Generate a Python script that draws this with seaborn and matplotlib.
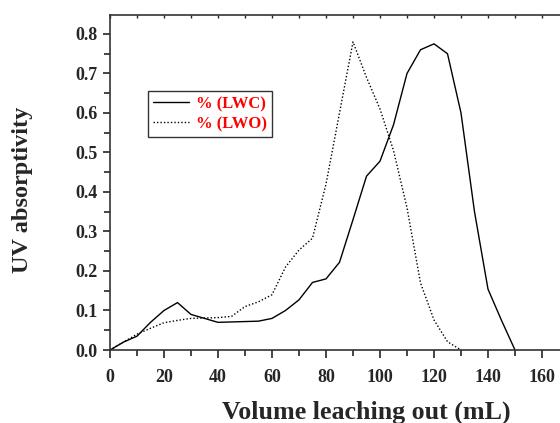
import matplotlib
matplotlib.use("Agg")
import matplotlib.pyplot as plt
import numpy as np
import pandas as pd
import seaborn as sns
from matplotlib.ticker import MultipleLocator

# volume (mL) and UV absorptivity
vol_lwc = [0, 5, 10, 15, 20, 25, 30, 35, 40, 45, 50, 55, 60, 65, 70, 75, 80, 85,
           90, 95, 100, 105, 110, 115, 120, 125, 130, 135, 140, 145, 150]
uv_lwc = [0, 0.02, 0.035, 0.07, 0.10, 0.12, 0.09, 0.08, 0.07, 0.071, 0.072, 0.073,
          0.08, 0.10, 0.127, 0.171, 0.18, 0.222, 0.33, 0.44, 0.478, 0.57, 0.70,
          0.76, 0.775, 0.75, 0.60, 0.35, 0.154, 0.075, 0]

vol_lwo = [0, 5, 10, 15, 20, 25, 30, 35, 40, 45, 50, 55, 60, 65, 70, 75, 80, 85,
           90, 95, 100, 105, 110, 115, 120, 125, 130]
uv_lwo = [0, 0.02, 0.04, 0.055, 0.069, 0.075, 0.08, 0.081, 0.082, 0.085, 0.11,
          0.122, 0.14, 0.21, 0.253, 0.283, 0.42, 0.60, 0.78, 0.69, 0.61, 0.505,
          0.36, 0.17, 0.076, 0.021, 0]

labels = ['% (LWC)', '% (LWO)']

df_lwc = pd.DataFrame({'vol': vol_lwc, 'uv': uv_lwc})
df_lwo = pd.DataFrame({'vol': vol_lwo, 'uv': uv_lwo})

sns.set_style("ticks")
plt.rcParams['font.family'] = ['Liberation Serif', 'DejaVu Serif']
plt.rcParams['font.weight'] = 'bold'

fig = plt.figure(figsize=(5.6, 4.23), dpi=100)
ax = fig.add_axes([110 / 560, 73 / 423, 459 / 560, 335 / 423])

sns.lineplot(data=df_lwc, x='vol', y='uv', ax=ax, color='black', lw=1.0,
             label=labels[0])
sns.lineplot(data=df_lwo, x='vol', y='uv', ax=ax, color='black', lw=1.0,
             linestyle=(0, (1, 1.5)), label=labels[1])

ax.set_xlim(0, 170)
ax.set_ylim(0, 0.848)
ax.xaxis.set_major_locator(MultipleLocator(20))
ax.xaxis.set_minor_locator(MultipleLocator(10))
ax.yaxis.set_major_locator(MultipleLocator(0.1))
ax.yaxis.set_minor_locator(MultipleLocator(0.05))
ax.yaxis.set_major_formatter(matplotlib.ticker.FormatStrFormatter('%.1f'))

for s in ['left', 'bottom', 'top']:
    ax.spines[s].set_linewidth(1.2)
    ax.spines[s].set_color('#333333')
ax.spines['right'].set_visible(False)

ax.tick_params(axis='x', which='major', direction='out', length=6, width=1.2,
               labelsize=13, pad=8)
ax.tick_params(axis='x', which='minor', direction='out', length=4, width=1.2)
ax.tick_params(axis='y', which='major', direction='out', length=5, width=1.2,
               labelsize=13, pad=4)
ax.tick_params(axis='y', which='minor', direction='out', length=4, width=1.2)

# small inward ticks on top spine
sec = ax.secondary_xaxis('top')
sec.xaxis.set_major_locator(MultipleLocator(10))
sec.tick_params(direction='in', length=2.5, width=1, labeltop=False)
sec.spines['top'].set_visible(False)

ax.set_xlabel('Volume leaching out (mL)', fontsize=18.7, fontweight='bold')
ax.xaxis.set_label_coords(0.558, -0.152)
ax.set_ylabel('UV absorptivity', fontsize=17.5, fontweight='bold')
ax.yaxis.set_label_coords(-0.168, 0.478)

leg = ax.legend(loc='upper left', bbox_to_anchor=(38 / 459, 1 - 76 / 335),
                frameon=True, fancybox=False, edgecolor='black',
                fontsize=12, handlelength=2.15, handletextpad=0.4,
                borderpad=0.3, labelspacing=0.25, borderaxespad=0)
leg.get_frame().set_linewidth(1.0)
for t in leg.get_texts():
    t.set_color('red')
    t.set_fontweight('bold')

fig.savefig('out.png', dpi=100)
